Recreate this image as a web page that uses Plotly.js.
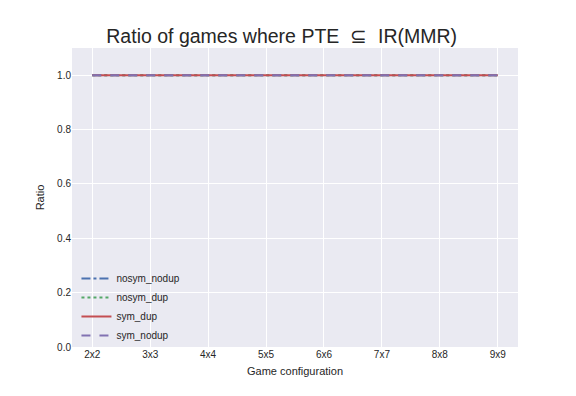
<!DOCTYPE html>
<html>
<head>
<meta charset="utf-8">
<script src="https://cdn.plot.ly/plotly-3.0.1.min.js"></script>
<style>html,body{margin:0;padding:0;background:#fff;}#chart{width:576px;height:396px;}</style>
</head>
<body>
<div id="chart"></div>
<script>
const categories = ["2x2", "3x3", "4x4", "5x5", "6x6", "7x7", "8x8", "9x9"];
const nosym_nodup = [1.0, 1.0, 1.0, 1.0, 1.0, 1.0, 1.0, 1.0];
const nosym_dup = [1.0, 1.0, 1.0, 1.0, 1.0, 1.0, 1.0, 1.0];
const sym_dup = [1.0, 1.0, 1.0, 1.0, 1.0, 1.0, 1.0, 1.0];
const sym_nodup = [1.0, 1.0, 1.0, 1.0, 1.0, 1.0, 1.0, 1.0];
const yTicks = [0.0, 0.2, 0.4, 0.6, 0.8, 1.0];

const xIdx = categories.map((c, i) => i);
function tr(name, y, color, dash) {
  return {x: xIdx, y: y, name: name, type: 'scatter', mode: 'lines',
    line: {color: color, width: 2, dash: dash}};
}
const data = [
  tr('nosym_nodup', nosym_nodup, '#4C72B0', 'dashdot'),
  tr('nosym_dup', nosym_dup, '#55A868', 'dot'),
  tr('sym_dup', sym_dup, '#C44E52', 'solid'),
  tr('sym_nodup', sym_nodup, '#8172B2', 'dash')
];
const font = "'Liberation Sans', Arial, sans-serif";
const layout = {
  width: 576, height: 396,
  margin: {l: 72, r: 58, t: 48, b: 49},
  paper_bgcolor: '#ffffff', plot_bgcolor: '#EAEAF2',
  font: {family: font, size: 10, color: '#262626'},
  title: {text: 'Ratio of games where PTE  ⊆  IR(MMR)', font: {family: font, size: 19.5, color: '#262626'},
    x: 0.489, xanchor: 'center', y: 1 - 36/396, yanchor: 'middle', yref: 'container'},
  xaxis: {
    range: [-0.35, 7.35], tickvals: xIdx, ticktext: categories,
    showgrid: true, gridcolor: '#ffffff', gridwidth: 1, zeroline: false, showline: false,
    ticks: '', ticklen: 0, tickfont: {size: 10, color: '#262626'},
    title: {text: 'Game configuration', font: {size: 11, color: '#262626'}, standoff: 8}
  },
  yaxis: {
    range: [0, 1.1], tickvals: yTicks, ticktext: yTicks.map(v => v.toFixed(1)),
    showgrid: true, gridcolor: '#ffffff', gridwidth: 1, zeroline: false, showline: false,
    ticks: '', tickfont: {size: 10, color: '#262626'},
    title: {text: 'Ratio', font: {size: 11, color: '#262626'}, standoff: 10}
  },
  legend: {x: 0.01, y: -0.01, xanchor: 'left', yanchor: 'bottom', bgcolor: 'rgba(0,0,0,0)',
    font: {size: 10, color: '#262626'}, tracegroupgap: 0, itemwidth: 30},
  showlegend: true
};
Plotly.newPlot('chart', data, layout, {displayModeBar: false, staticPlot: true});
</script>
</body>
</html>
